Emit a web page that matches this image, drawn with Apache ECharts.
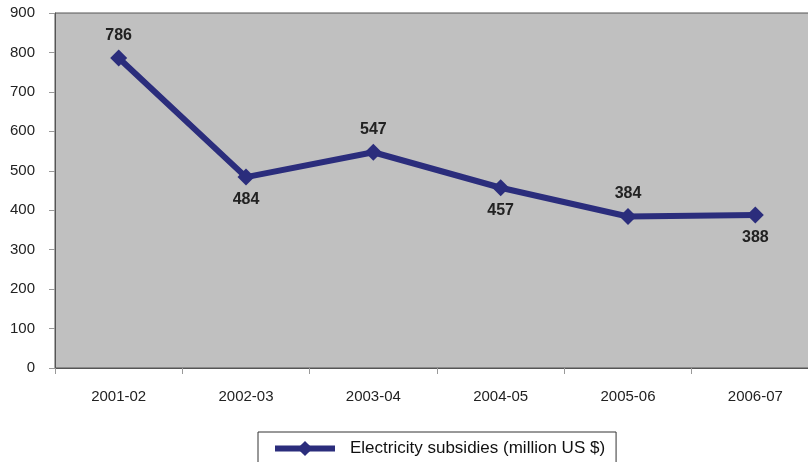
<!DOCTYPE html>
<html><head><meta charset="utf-8">
<script src="https://cdn.jsdelivr.net/npm/echarts@6/dist/echarts.min.js"></script>
<style>html,body{margin:0;padding:0;background:#fff;overflow:hidden}#c{width:830px;height:462px}</style>
</head><body><div id="c"></div>
<script>
const categories = ['2001-02','2002-03','2003-04','2004-05','2005-06','2006-07'];
const values = [786, 484, 547, 457, 384, 388];
const labelPos = ['top','bottom','top','bottom','top','bottom'];
const seriesName = 'Electricity subsidies (million US $)';

const chart = echarts.init(document.getElementById('c'));
chart.setOption({
  animation: false,
  backgroundColor: '#fff',
  textStyle: {fontFamily: 'Liberation Sans, Arial, sans-serif'},
  grid: {left: 55, top: 13, width: 764, height: 355, show: true,
    backgroundColor: '#C0C0C0', borderColor: '#555', borderWidth: 1},
  legend: {
    left: 258, top: 432, padding: [8, 11, 10, 14],
    borderColor: '#333', borderWidth: 1,
    itemWidth: 60, itemHeight: 19,
    lineStyle: {width: 6},
    textStyle: {fontSize: 17, color: '#111', padding: [0,0,0,10]},
    data: [seriesName]
  },
  xAxis: {
    type: 'category', data: categories, boundaryGap: true,
    axisLine: {lineStyle: {color: '#555', width: 1}},
    axisTick: {show: true, length: 6, lineStyle: {color: '#999'}},
    axisLabel: {color: '#222', fontSize: 15, margin: 21},
    splitLine: {show: false}
  },
  yAxis: {
    type: 'value', min: 0, max: 900, interval: 100,
    axisLine: {show: true, lineStyle: {color: '#555', width: 1}},
    axisTick: {show: true, length: 6, lineStyle: {color: '#999'}},
    axisLabel: {color: '#222', fontSize: 15, margin: 20},
    splitLine: {show: false}
  },
  series: [{
    name: seriesName, type: 'line',
    data: values.map((v, i) => ({value: v, label: {position: labelPos[i]}})),
    lineStyle: {color: '#2B2D7C', width: 6},
    itemStyle: {color: '#2B2D7C'},
    symbol: 'diamond', symbolSize: 17,
    label: {show: true, fontSize: 16, fontWeight: 'bold', color: '#222', distance: 6}
  }]
});
</script></body></html>
